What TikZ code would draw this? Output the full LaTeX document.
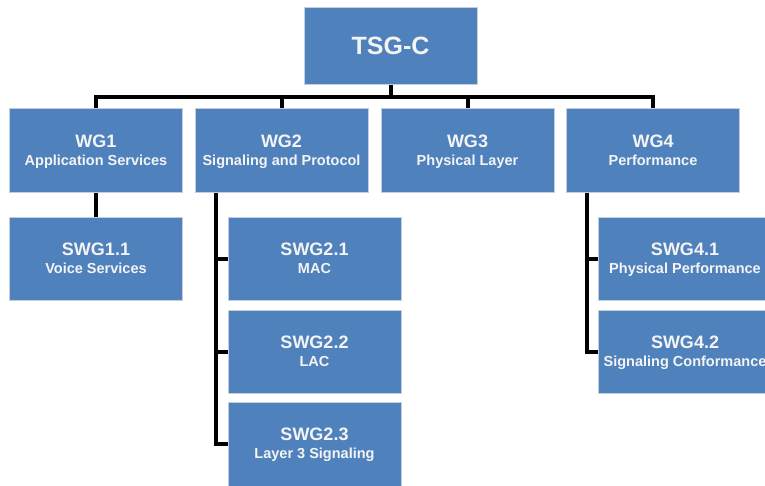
\documentclass[tikz,border=0pt]{standalone}
\usepackage{fontspec}
\setmainfont{Liberation Sans}
\definecolor{boxblue}{HTML}{4F81BD}
\definecolor{boxedge}{HTML}{C4CEE2}
\definecolor{boxtext}{HTML}{F4F4F4}
\tikzset{
  unitbox/.style={rectangle, fill=boxblue, draw=boxedge, line width=1pt,
    text=boxtext, align=center, inner sep=0pt,
    minimum width=173pt, minimum height=83pt,
    font=\bfseries\fontsize{14.5}{18}\selectfont},
  topbox/.style={unitbox, minimum height=77pt, font=\bfseries\fontsize{25}{25}\selectfont},
  link/.style={draw=black, line width=4pt}
}
\newcommand{\ttl}[1]{{\fontsize{18}{18}\selectfont #1}}
\newcommand{\subt}[1]{\smash{#1}\vphantom{A}}
\begin{document}
\begin{tikzpicture}[x=1pt,y=-1pt]
\useasboundingbox (0,0) rectangle (765,485);
\clip (0,0) rectangle (765,485);
\fill[white] (0,0) rectangle (765,485);
\node[topbox] (tsg) at (390.5,45.5) {TSG-C};
\node[unitbox, minimum height=84pt] (wg1) at (96,150) {\ttl{WG1}\\\subt{Application Services}};
\node[unitbox, minimum height=84pt] (wg2) at (281.5,150) {\ttl{WG2}\\\subt{Signaling and Protocol}};
\node[unitbox, minimum height=84pt] (wg3) at (467.5,150) {\ttl{WG3}\\\subt{Physical Layer}};
\node[unitbox, minimum height=84pt] (wg4) at (653,150) {\ttl{WG4}\\\subt{Performance}};
\node[unitbox] (swg11) at (96,258.5) {\ttl{SWG1.1}\\\subt{Voice Services}};
\node[unitbox] (swg21) at (314.5,258.5) {\ttl{SWG2.1}\\\subt{MAC}};
\node[unitbox] (swg22) at (314.5,351.5) {\ttl{SWG2.2}\\\subt{LAC}};
\node[unitbox, minimum height=101pt] (swg23) at (314.5,452.5) {\ttl{SWG2.3}\\\subt{Layer 3 Signaling}\\\rule{0pt}{0pt}};
\node[unitbox] (swg41) at (685,258.5) {\ttl{SWG4.1}\\\subt{Physical Performance}};
\node[unitbox] (swg42) at (685,351.5) {\ttl{SWG4.2}\\\subt{Signaling Conformance}};
% top bus
\draw[link] (tsg.south) -- ++(0,12) coordinate (busc);
\draw[link] (wg1.north) -- (wg1.north |- busc) -- (wg4.north |- busc) -- (wg4.north);
\draw[link] (wg2.north) -- (wg2.north |- busc);
\draw[link] (wg3.north) -- (wg3.north |- busc);
% WG1 child
\draw[link] (wg1.south) -- (swg11.north);
% WG2 children
\coordinate (v2) at ([xshift=21pt]wg2.south west);
\coordinate (t23) at ([yshift=9pt]swg23.west);
\draw[link] (v2) |- (t23);
\draw[link] (swg21.west) -- (swg21.west -| v2);
\draw[link] (swg22.west) -- (swg22.west -| v2);
% WG4 children
\coordinate (v4) at ([xshift=21pt]wg4.south west);
\draw[link] (v4) |- (swg42.west);
\draw[link] (swg41.west) -- (swg41.west -| v4);
\end{tikzpicture}
\end{document}
